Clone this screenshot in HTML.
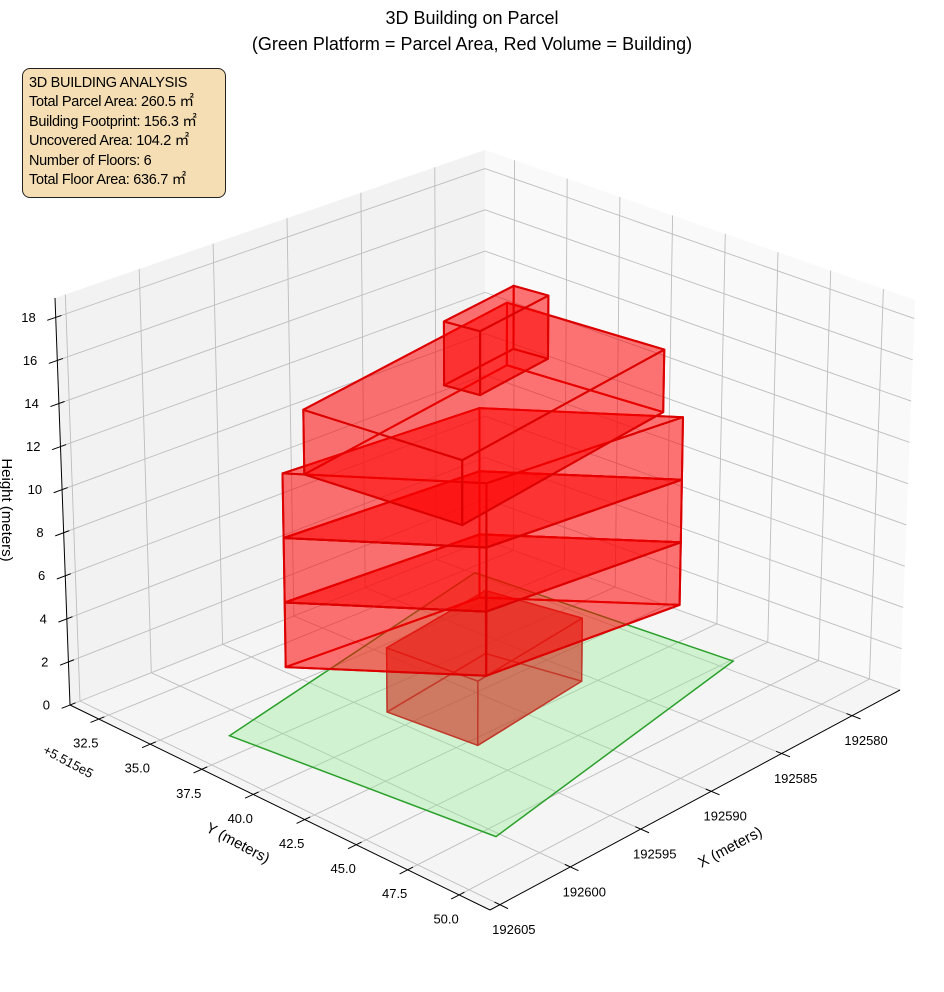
<!DOCTYPE html>
<html><head><meta charset="utf-8"><style>
html,body{margin:0;padding:0;background:#fff;width:944px;height:992px;overflow:hidden;}
svg{display:block;font-family:"Liberation Sans","Noto Sans CJK JP",sans-serif;}
#info{position:absolute;left:22px;top:68px;width:196px;height:118px;padding:5px 0 5px 6px;background:#f5deb3;border:1px solid #222;border-radius:8px;font-family:"Liberation Sans","Noto Sans CJK JP",sans-serif;font-size:14.5px;line-height:19.4px;color:#000;letter-spacing:-0.3px;white-space:nowrap;}
</style></head><body>
<svg id="chart" width="944" height="992" viewBox="0 0 944 992">
<g id="panes"></g>
<g id="grid"></g>
<g id="axes"></g>
<g id="parcel"></g>
<g id="building"></g>
<text x="472" y="24" text-anchor="middle" font-size="18">3D Building on Parcel</text>
<text x="472" y="50" text-anchor="middle" font-size="18">(Green Platform = Parcel Area, Red Volume = Building)</text>
<text x="730" y="852" text-anchor="middle" font-size="15" transform="rotate(-28 730 847)">X (meters)</text>
<text x="238" y="848" text-anchor="middle" font-size="15" transform="rotate(28 238 843)">Y (meters)</text>
<text x="510" y="-2" text-anchor="middle" font-size="15" transform="rotate(90 0 0)">Height (meters)</text>
<text x="68" y="766" text-anchor="middle" font-size="13" transform="rotate(28 68 762)">+5.515e5</text>
</svg>
<div id="info">3D BUILDING ANALYSIS<br>Total Parcel Area: 260.5 ㎡<br>Building Footprint: 156.3 ㎡<br>Uncovered Area: 104.2 ㎡<br>Number of Floors: 6<br>Total Floor Area: 636.7 ㎡</div>
<script>
const xTicks=[192580,192585,192590,192595,192600,192605];
const yTicks=[32.5,35.0,37.5,40.0,42.5,45.0,47.5,50.0];
const zTicks=[0,2,4,6,8,10,12,14,16,18];
const parcelX=[192602.1,192579.9,192579.2,192600.3];
const parcelY=[36.36,32.92,45.11,48.09];
const fpAX=[192586.5,192594.6,192594.1,192585.6];
const fpAY=[38.04,38.85,42.93,42.12];
const fpBX=[192587.3,192599.7,192593.4,192581.4];
const fpBY=[38.3,37.49,42.85,43.95];
const fpCX=[192582.6,192599.0,192597.6,192581.6];
const fpCY=[36.34,38.04,44.58,43.14];
const fpDX=[192586.5,192592.0,192591.6,192586.2];
const fpDY=[39.36,39.87,41.3,40.79];
const floorBase=[0,3,6,9,12,15];
const floorFootprint=[0,1,1,1,2,3];
const floorHeight=3;

const xmin=192576.6,xmax=192605.7,ymin=31.1,ymax=51.5,zmax=18.9;
const B00=[485,540],B10=[70,705],B01=[900,690],B11=[490,910];
const T00=[485,150],T10=[55,298],T01=[915,300],T11=[492,490];
function bil(a,b,c,d,u,v,i){return a[i]*(1-u)*(1-v)+b[i]*u*(1-v)+c[i]*(1-u)*v+d[i]*u*v;}
function Puvw(u,v,w){
  const bx=bil(B00,B10,B01,B11,u,v,0),by=bil(B00,B10,B01,B11,u,v,1);
  const tx=bil(T00,T10,T01,T11,u,v,0),ty=bil(T00,T10,T01,T11,u,v,1);
  return [bx+(tx-bx)*w,by+(ty-by)*w];
}
function U(x){return (x-xmin)/(xmax-xmin);}
function V(y){return (y-ymin)/(ymax-ymin);}
function W(z){return z/zmax;}
function P(x,y,z){return Puvw(U(x),V(y),W(z));}
const NS='http://www.w3.org/2000/svg';
function mk(tag,parent,attrs){const e=document.createElementNS(NS,tag);for(const k in attrs)e.setAttribute(k,attrs[k]);parent.appendChild(e);return e;}
function pts(a){return a.map(p=>p[0].toFixed(1)+','+p[1].toFixed(1)).join(' ');}

const panes=document.getElementById('panes');
let el=mk('polygon',panes,{points:pts([Puvw(0,0,0),Puvw(1,0,0),Puvw(1,1,0),Puvw(0,1,0)]),fill:'#f5f5f5'});


el=mk('polygon',panes,{points:pts([Puvw(0,0,0),Puvw(1,0,0),Puvw(1,0,1),Puvw(0,0,1)]),fill:'#f2f2f2'});


el=mk('polygon',panes,{points:pts([Puvw(0,0,0),Puvw(0,1,0),Puvw(0,1,1),Puvw(0,0,1)]),fill:'#f9f9f9'});



const grid=document.getElementById('grid');
function gl(a,b,name){const e=mk('line',grid,{x1:a[0],y1:a[1],x2:b[0],y2:b[1],stroke:'#bdbdbd','stroke-width':0.9});

}
xTicks.forEach(t=>{const u=U(t);gl(Puvw(u,0,0),Puvw(u,1,0),'x-gridline-floor');gl(Puvw(u,0,0),Puvw(u,0,1),'x-gridline-wall');});
yTicks.forEach(t=>{const v=V(t);gl(Puvw(0,v,0),Puvw(1,v,0),'y-gridline-floor');gl(Puvw(0,v,0),Puvw(0,v,1),'y-gridline-wall');});
zTicks.forEach(t=>{const w=W(t);gl(Puvw(0,0,w),Puvw(1,0,w),'z-gridline-left');gl(Puvw(0,0,w),Puvw(0,1,w),'z-gridline-right');});

const axes=document.getElementById('axes');
function al(a,b,name,w){const e=mk('line',axes,{x1:a[0],y1:a[1],x2:b[0],y2:b[1],stroke:'#000','stroke-width':w});

}
function txt(x,y,s,anchor,name){const e=mk('text',axes,{x:x,y:y,'text-anchor':anchor,'font-size':13,'dominant-baseline':'middle'});e.textContent=s;

}
al(Puvw(0,1,0),Puvw(1,1,0),'x-axis-line',1);
al(Puvw(1,0,0),Puvw(1,1,0),'y-axis-line',1);
al(Puvw(1,0,0),Puvw(1,0,1),'z-axis-line',1);
function unit(a,b){const dx=b[0]-a[0],dy=b[1]-a[1],l=Math.hypot(dx,dy);return [dx/l,dy/l];}
xTicks.forEach(t=>{const u=U(t);const p=Puvw(u,1,0);const d=unit(Puvw(u,0.9,0),Puvw(u,1,0));
al([p[0]-d[0]*6,p[1]-d[1]*6],[p[0]+d[0]*9,p[1]+d[1]*9],'x-tick',1);
txt(p[0]+14,p[1]+26,String(t),'middle','x-tick-label');});
yTicks.forEach(t=>{const v=V(t);const p=Puvw(1,v,0);const d=unit(Puvw(0.9,v,0),Puvw(1,v,0));
al([p[0]-d[0]*6,p[1]-d[1]*6],[p[0]+d[0]*9,p[1]+d[1]*9],'y-tick',1);
txt(p[0]-13,p[1]+25,t.toFixed(1),'middle','y-tick-label');});
zTicks.forEach(t=>{const w=W(t);const p=Puvw(1,0,w);const d=unit(Puvw(0.9,0,w),Puvw(1,0,w));
al([p[0]-d[0]*6,p[1]-d[1]*6],[p[0]+d[0]*9,p[1]+d[1]*9],'z-tick',1);
txt(p[0]-20,p[1]+1,String(t),'end','z-tick-label');});

const parcel=document.getElementById('parcel');
el=mk('polygon',parcel,{points:pts(parcelX.map((x,i)=>P(x,parcelY[i],0))),fill:'rgba(144,238,144,0.35)',stroke:'#2ca02c','stroke-width':1.5});



const fps=[[fpAX,fpAY],[fpBX,fpBY],[fpCX,fpCY],[fpDX,fpDY]];
const bld=document.getElementById('building');
floorBase.forEach((z0,fi)=>{
  const fp=fps[floorFootprint[fi]];const z1=z0+floorHeight;
  const g=mk('g',bld,{});
  
  
  const bot=fp[0].map((x,i)=>[x,fp[1][i],z0]), top=fp[0].map((x,i)=>[x,fp[1][i],z1]);
  const faces=[bot,top];
  for(let i=0;i<4;i++){const j=(i+1)%4;faces.push([bot[i],bot[j],top[j],top[i]]);}
  const depth=f=>f.reduce((s,p)=>s+U(p[0])+V(p[1]),0)/f.length;
  faces.sort((a,b)=>depth(a)-depth(b));
  const first=fi===0;
  faces.forEach(f=>{
    const e=mk('polygon',g,{points:pts(f.map(p=>P(p[0],p[1],p[2]))),
      fill:first?'rgba(205,60,40,0.42)':'rgba(255,0,0,0.32)',
      stroke:first?'#c0392b':'#dd0000','stroke-width':first?1.4:2,'stroke-linejoin':'round'});
    
    
  });
});
</script>
</body></html>
